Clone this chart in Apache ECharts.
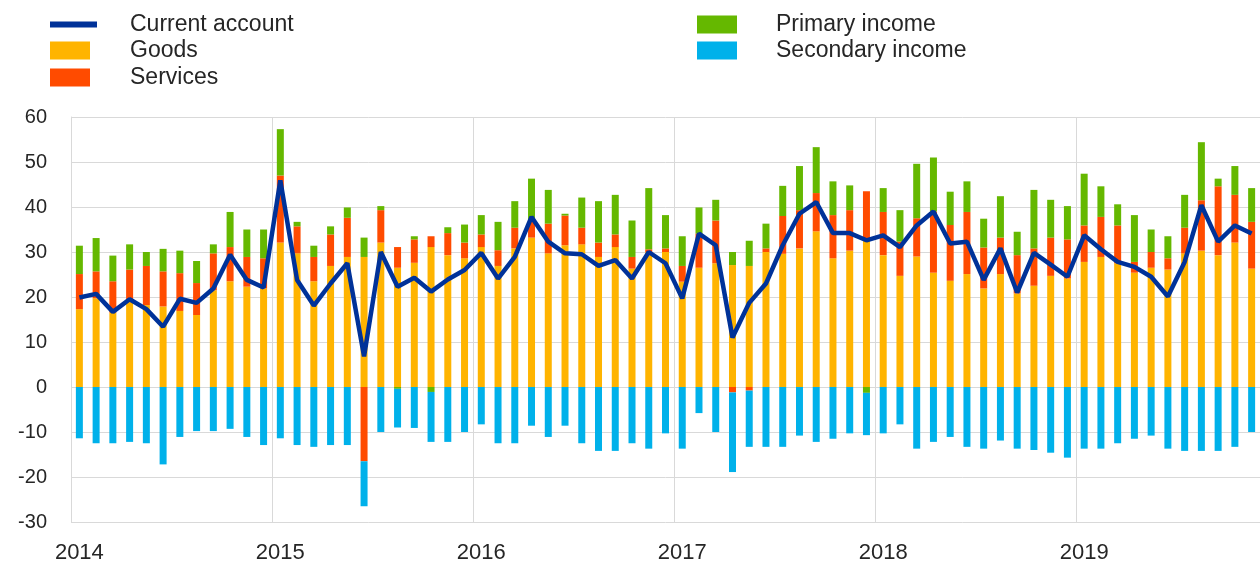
<!DOCTYPE html>
<html>
<head>
<meta charset="utf-8">
<script src="https://cdn.jsdelivr.net/npm/echarts@6/dist/echarts.min.js"></script>
<style>
  html, body { margin: 0; padding: 0; background: #fff; }
  #chart { width: 1260px; height: 561px; }
</style>
</head>
<body>
<div id="chart"></div>
<script>
// months Jan 2014 - Nov 2019
const years = ["2014", "2015", "2016", "2017", "2018", "2019"];
const months = ["01", "02", "03", "04", "05", "06", "07", "08", "09", "10", "11", "12"];
const categories = [];
years.forEach((y) => months.forEach((m) => categories.push(y + "-" + m)));
categories.splice(71); // last month shown is 2019-11

const goods = [
  17.3, 19.7, 16.5, 19.0, 18.2, 17.9, 16.9, 16.0, 21.5, 23.5, 22.3, 21.9,
  32.1, 29.7, 23.5, 26.9, 28.9, 28.9, 32.1, 26.5, 27.6, 31.1, 29.3, 28.6,
  31.1, 26.9, 30.8, 33.2, 29.7, 31.5, 31.7, 28.9, 31.1, 26.3, 30.0, 30.0,
  23.4, 26.5, 27.5, 27.1, 26.9, 30.0, 29.6, 30.8, 34.6, 28.6, 30.3, 33.0,
  29.3, 24.7, 29.0, 25.4, 23.6, 25.1, 21.9, 25.1, 20.8, 22.5, 24.7, 24.1,
  27.8, 28.9, 27.5, 25.4, 26.5, 26.1, 29.7, 30.3, 29.3, 32.1, 26.3,
];
const services = [
  7.8, 6.0, 7.0, 7.1, 8.7, 7.8, 8.4, 7.1, 8.2, 7.6, 6.6, 6.7,
  14.9, 6.0, 5.4, 7.0, 8.7, -16.5, 7.2, 4.6, 5.2, 2.4, 4.9, 3.5,
  2.8, 3.5, 4.6, 3.8, 6.6, 6.6, 3.7, 3.2, 2.8, 2.6, 0.6, 0.8,
  3.5, 7.6, 9.5, -1.2, -0.8, 0.8, 8.4, 8.5, 8.5, 9.6, 9.0, 10.5,
  9.6, 7.6, 8.5, 13.6, 12.4, 13.8, 9.1, 8.1, 8.5, 8.3, 8.5, 8.7,
  8.1, 8.9, 8.4, 2.4, 3.5, 2.5, 5.7, 11.2, 15.3, 10.6, 10.4,
];
const primaryIncome = [
  6.3, 7.4, 5.7, 5.6, 3.1, 5.0, 5.0, 4.9, 2.0, 7.8, 6.1, 6.4,
  10.3, 1.0, 2.5, 1.8, 2.3, 4.3, 0.9, -0.4, 0.7, -1.1, 1.3, 4.0,
  4.3, 6.3, 5.9, 9.3, 7.5, 0.4, 6.7, 9.2, 8.8, 8.1, 13.6, 7.4,
  6.6, 5.8, 4.6, 2.9, 5.6, 5.5, 6.7, 9.8, 10.2, 7.5, 5.5, -1.3,
  5.3, 7.0, 12.1, 12.0, 7.4, 6.8, 6.4, 9.2, 5.2, 13.0, 8.4, 7.4,
  11.5, 6.8, 4.7, 10.4, 5.0, 4.9, 7.3, 12.9, 1.7, 6.4, 7.5,
];
const secondaryIncome = [
  -11.4, -12.5, -12.5, -12.2, -12.5, -17.2, -11.1, -9.8, -9.8, -9.3, -11.1, -12.9,
  -11.4, -12.9, -13.3, -12.9, -12.9, -10.0, -10.0, -8.6, -9.1, -11.1, -12.2, -10.0,
  -8.3, -12.5, -12.5, -8.6, -11.1, -8.6, -12.5, -14.2, -14.2, -12.5, -13.7, -10.3,
  -13.7, -5.8, -10.0, -17.7, -12.5, -13.3, -13.3, -10.8, -12.2, -11.5, -10.3, -9.4,
  -10.3, -8.3, -13.7, -12.2, -11.1, -13.3, -13.7, -11.9, -13.7, -14.0, -14.6, -15.7,
  -13.7, -13.7, -12.5, -11.5, -10.8, -13.7, -14.2, -14.2, -14.2, -13.3, -10.0,
];
const currentAccount = [
  19.9, 20.7, 16.7, 19.5, 17.3, 13.4, 19.6, 18.7, 21.9, 29.4, 23.8, 22.1,
  45.9, 23.8, 18.1, 23.0, 27.5, 6.8, 30.0, 22.3, 24.3, 21.2, 23.9, 26.0,
  29.8, 24.1, 28.9, 37.8, 32.3, 29.7, 29.5, 26.9, 28.2, 24.1, 30.0, 27.5,
  19.7, 34.1, 31.5, 11.0, 18.7, 23.0, 31.5, 38.5, 41.1, 34.2, 34.2, 32.6,
  33.7, 31.1, 35.9, 39.0, 31.9, 32.3, 23.8, 30.8, 21.0, 29.8, 27.2, 24.5,
  33.7, 30.6, 27.8, 26.7, 24.5, 20.1, 27.8, 40.4, 32.3, 35.9, 34.1,
];

const font = "'Liberation Sans', Arial, sans-serif";
const gridColor = "#d9d9d9";

// one legend box per entry so each can sit where the original has it
function legendItem(name, left, top, w, h, pad) {
  return {
    data: [{ name: name, icon: "rect" }],
    left: left,
    top: top,
    padding: 0,
    itemWidth: w,
    itemHeight: h,
    selectedMode: false,
    textStyle: {
      fontFamily: font,
      fontSize: 23,
      color: "#262626",
      padding: [0, 0, 0, pad],
    },
  };
}

function barSeries(name, color, data) {
  return {
    name: name,
    type: "bar",
    stack: "total",
    barWidth: 7,
    itemStyle: { color: color },
    data: data,
  };
}

const chart = echarts.init(document.getElementById("chart"));
chart.setOption({
  animation: false,
  legend: [
    legendItem("Current account", 50, 13, 47, 6, 28),
    legendItem("Goods", 50, 39, 40, 18, 35),
    legendItem("Services", 50, 66, 40, 18, 35),
    legendItem("Primary income", 697, 13, 40, 18, 34),
    legendItem("Secondary income", 697, 39, 40, 18, 34),
  ],
  grid: { left: 71, right: 0, top: 117, bottom: 39, outerBoundsMode: "none" },
  xAxis: {
    type: "category",
    data: categories,
    axisLine: { show: false, onZero: false },
    axisTick: { show: false },
    axisLabel: {
      interval: 11,
      margin: 20,
      fontFamily: font,
      fontSize: 22,
      color: "#262626",
      formatter: (v) => v.slice(0, 4),
    },
    splitLine: { show: true, interval: 11, lineStyle: { color: gridColor } },
  },
  yAxis: {
    type: "value",
    min: -30,
    max: 60,
    interval: 10,
    axisLine: { show: true, lineStyle: { color: gridColor } },
    axisTick: { show: false },
    axisLabel: { margin: 24, fontFamily: font, fontSize: 20, color: "#262626" },
    splitLine: { lineStyle: { color: gridColor } },
  },
  series: [
    barSeries("Goods", "#FFB400", goods),
    barSeries("Services", "#FF4B00", services),
    barSeries("Primary income", "#65B800", primaryIncome),
    barSeries("Secondary income", "#00B1EA", secondaryIncome),
    {
      name: "Current account",
      type: "line",
      symbol: "none",
      z: 5,
      color: "#003299",
      lineStyle: { width: 4.5, color: "#003299" },
      data: currentAccount,
    },
  ],
});
</script>
</body>
</html>
